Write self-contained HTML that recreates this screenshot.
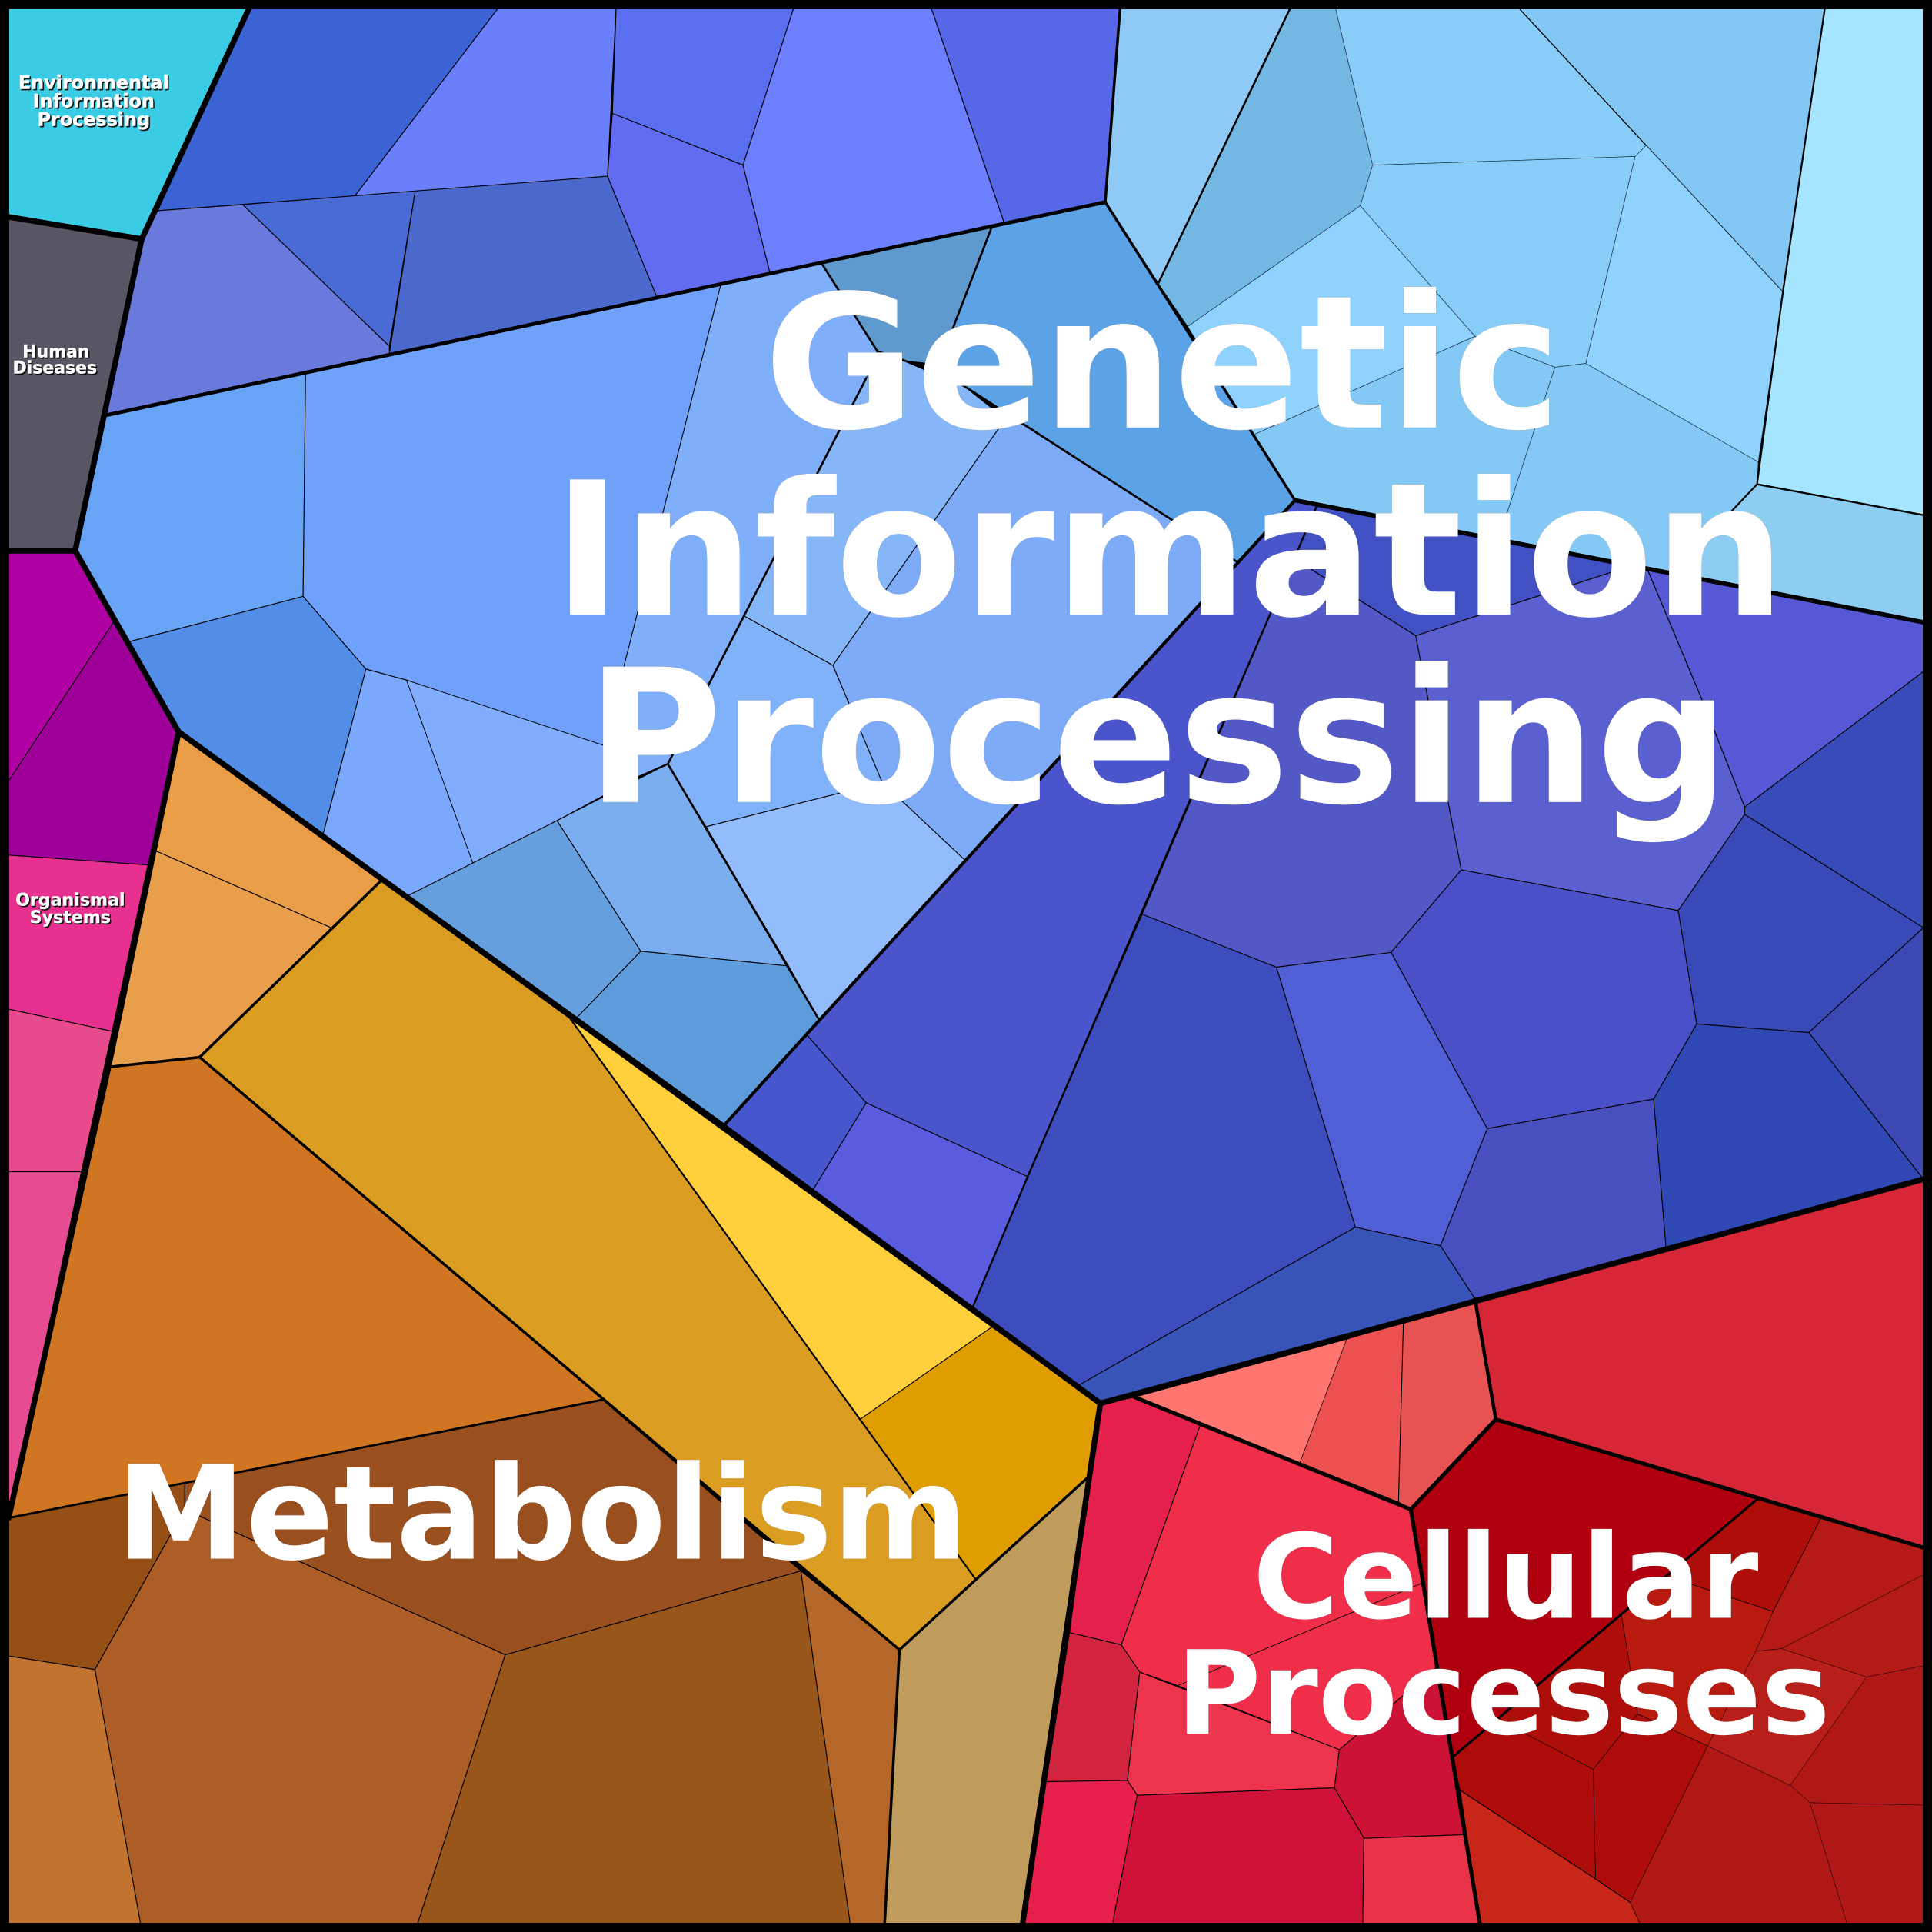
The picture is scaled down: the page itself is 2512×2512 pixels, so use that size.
<!DOCTYPE html>
<html><head><meta charset="utf-8"><style>
html,body{margin:0;padding:0;background:#000}
svg{display:block}
polygon{stroke:#000;stroke-width:.7;stroke-linejoin:round}
.l polygon{stroke-width:.4;stroke:#123}
.m{fill:none;stroke:#000;stroke-width:2.2;stroke-linejoin:round;stroke-linecap:round}
.t{fill:none;stroke:#000;stroke-width:4.6;stroke-linejoin:round;stroke-linecap:round}
text{font-family:"DejaVu Sans","Liberation Sans",sans-serif;font-weight:bold;fill:#fff;text-anchor:middle}
.big{filter:drop-shadow(.8px .8px 0 #333)}
.sm{filter:drop-shadow(1px 1px 0 #111)}
.sm text{stroke:#fff;stroke-width:.25}
</style></head><body>
<svg xmlns="http://www.w3.org/2000/svg" width="2512" height="2512" viewBox="0 0 1568 1568">
<rect width="1568" height="1568" fill="#000"/>
<g>
<polygon fill="#3accE4" points="7,7 202,7 115,194 7,176"/>
<polygon fill="#585664" points="7,176 115,194 61,447 7,447"/>
<polygon fill="#b000a4" points="7,447 61,447 92,505 7,634"/>
<polygon fill="#a0009a" points="92,505 145,594 120,702 7,694 7,634"/>
<polygon fill="#e83090" points="7,694 120,702 91,837 7,819"/>
<polygon fill="#e84a8e" points="7,819 91,837 66,951 7,951"/>
<polygon fill="#e74c93" points="7,951 66,951 7,1232"/>
<polygon fill="#e99d46" points="145,594 309,715 269,753 125,690"/>
<polygon fill="#e99e4c" points="125,690 269,753 162,858 88,866"/>
<polygon fill="#d07522" points="88,866 162,858 489,1136 7,1232"/>
<polygon fill="#954f14" points="7,1232 150,1204 150,1225 77,1355 7,1344"/>
<polygon fill="#9a4f1e" points="150,1204 489,1136 650,1275 410,1343 150,1225"/>
<polygon fill="#ac5e26" points="77,1355 150,1225 410,1343 339,1561 114,1561"/>
<polygon fill="#98561b" points="410,1343 650,1275 690,1561 339,1561"/>
<polygon fill="#b5672a" points="650,1275 730,1339 718,1561 690,1561"/>
<polygon fill="#c27330" points="7,1344 77,1355 114,1561 7,1561"/>
<polygon fill="#da9d22" points="309,715 463,827 792,1282 730,1339 162,858"/>
<polygon fill="#ffd03c" points="463,827 805,1077 698,1152"/>
<polygon fill="#e09d00" points="805,1077 893,1139 884,1198 792,1282 698,1152"/>
<polygon fill="#c09c5c" points="884,1198 830,1561 718,1561 730,1339"/>

<polygon fill="#3b63d4" points="202,7 404,7 288,159 128,171"/>
<polygon fill="#6a7ffb" points="404,7 500,7 493,143 288,159"/>
<polygon fill="#5a6ef0" points="500,7 644,7 603,134 497,92"/>
<polygon fill="#616cf0" points="497,92 603,134 625,222 533,241 493,143"/>
<polygon fill="#6b7fff" points="644,7 756,7 815,181 625,222 603,134"/>
<polygon fill="#5668e8" points="756,7 909,7 897,164 815,181"/>
<polygon fill="#6a79dc" points="128,171 197,166 316,281 316,287 86,337 115,194"/>
<polygon fill="#4a6ad6" points="197,166 337,155 316,281"/>
<polygon fill="#4b68cc" points="337,155 493,143 533,241 316,287"/>

<polygon fill="#68a4f6" points="86,337 248,303 246,484 104,521 61,447"/>
<polygon fill="#6fa1fb" points="248,303 585,231 519,540 490,605 330,552 297,543 246,484"/>
<polygon fill="#528ee8" points="104,521 246,484 297,543 262,678 145,594"/>
<polygon fill="#79a8fc" points="297,543 330,552 384,701 331,727 262,678"/>
<polygon fill="#82adfe" points="330,552 490,605 515,632 452,666 384,701" style="stroke-width:.5"/>
<polygon fill="#7faefb" points="585,231 667,214 712,285 703,307 542,620 515,632 490,605"/>
<polygon fill="#5e9acd" points="667,214 805,184 762,296 735,293 712,285"/>
<polygon fill="#5ca2e6" points="805,184 897,164 1051,406 1004,456 831,344 782,313 762,296"/>
<polygon fill="#84b6f8" points="712,285 735,293 782,313 816,340 676,540 604,500 703,307"/>
<polygon fill="#7dabf8" points="816,340 831,344 1004,456 783,698 716,635 676,540"/>
<polygon fill="#80b2fa" points="604,500 676,540 716,635 573,671 542,620"/>
<polygon fill="#93bcfd" points="573,671 716,635 783,698 665,828"/>
<polygon fill="#7aaeef" points="452,666 542,620 640,784 520,772"/>
<polygon fill="#5e9bdb" points="520,772 640,784 665,828 587,914 467,827"/>
<polygon fill="#669fdd" points="331,727 452,666 520,772 467,827"/>

<polygon fill="#4a55cb" points="1051,406 1069,410 834,955 703,895 655,840 665,828"/>
<polygon fill="#4150c3" points="1069,410 1337,462 1309,464 1149,516 1064,462 1052,450"/>
<polygon fill="#5259c6" points="1052,450 1064,462 1149,516 1186,706 1129,773 1036,785 927,742"/>
<polygon fill="#5a60cf" points="1149,516 1309,464 1337,462 1381,567 1416,655 1416,661 1362,739 1186,706"/>
<polygon fill="#5658d6" points="1337,462 1561,505 1561,545 1416,655 1381,567"/>
<polygon fill="#374cb8" points="1561,545 1416,655 1416,661 1561,753"/>
<polygon fill="#3a49b8" points="1416,661 1561,753 1468,838 1377,831 1362,739"/>
<polygon fill="#3c49b5" points="1561,753 1561,957 1468,838"/>
<polygon fill="#2f48b4" points="1377,831 1468,838 1561,957 1352,1012 1342,892"/>
<polygon fill="#4a50c8" points="1186,706 1362,739 1377,831 1342,892 1207,916 1129,773"/>
<polygon fill="#4850c0" points="1207,916 1342,892 1352,1012 1197,1054 1169,1011"/>
<polygon fill="#515fd7" points="1036,785 1129,773 1207,916 1169,1011 1100,996"/>
<polygon fill="#3e4dbe" points="927,742 1036,785 1100,996 876,1124 789,1062 834,955"/>
<polygon fill="#3854b8" points="1100,996 1169,1011 1197,1054 893,1139 876,1124"/>
<polygon fill="#5a5ce0" points="703,895 834,955 789,1062 659,967"/>
<polygon fill="#4657ce" points="655,840 703,895 659,967 587,914 665,828"/>
</g>
<g class="l">
<polygon fill="#8fcaf6" points="909,7 1047,7 940,230 897,164" style="stroke:#000;stroke-width:.9"/>
<polygon fill="#72b8e2" points="1047,7 1084,7 1114,134 1104,167 964,265 940,230"/>
<polygon fill="#88ccf8" points="1084,7 1233,7 1336,118 1327,127 1114,134"/>
<polygon fill="#82c7f3" points="1233,7 1481,7 1447,237 1336,118" style="stroke:#000;stroke-width:.8"/>
<polygon fill="#a5e5ff" points="1481,7 1561,7 1561,418 1426,393 1447,237" style="stroke:#000;stroke-width:.9"/>
<polygon fill="#8ed2fd" points="1336,118 1447,237 1427,375 1287,295 1327,127"/>
<polygon fill="#88ccf8" points="1114,134 1327,127 1287,295 1262,298 1197,273 1104,167"/>
<polygon fill="#8ed2fd" points="1104,167 1197,273 1017,353 964,265"/>
<polygon fill="#84c9f5" points="1017,353 1197,273 1262,298 1216,438 1051,406"/>
<polygon fill="#84c9f5" points="1262,298 1287,295 1427,375 1426,393 1358,465 1216,438"/>
<polygon fill="#8ecdf2" points="1426,393 1561,418 1561,505 1358,465" style="stroke:#000;stroke-width:.9"/>
</g>
<g>
<polygon fill="#d72636" points="1197,1054 1561,957 1561,1256 1214,1152"/>
<polygon fill="#ff7570" points="921,1134 1093,1087 1055,1187" style="stroke-width:.4"/>
<polygon fill="#ec5050" points="1093,1087 1139,1073 1135,1219 1055,1187" style="stroke-width:.4"/>
<polygon fill="#e75252" points="1139,1073 1197,1054 1214,1152 1145,1225 1135,1219"/>
<polygon fill="#b0000f" points="1214,1152 1427,1216 1179,1426 1145,1225"/>
<polygon fill="#ad0e09" points="1427,1216 1478,1232 1439,1308 1352,1279"/>
<polygon fill="#b81a10" points="1352,1279 1439,1308 1425,1340 1386,1417 1329,1391 1316,1311" style="stroke-width:.35"/>
<polygon fill="#ad0e09" points="1316,1311 1329,1391 1293,1436 1215,1395" style="stroke-width:.35"/>
<polygon fill="#ae0c0a" points="1179,1426 1215,1395 1293,1436 1295,1525 1185,1453" style="stroke-width:.4"/>
<polygon fill="#ae0c0a" points="1293,1436 1329,1391 1386,1417 1323,1544 1295,1525" style="stroke-width:.4"/>
<polygon fill="#c82618" points="1185,1453 1295,1525 1323,1544 1331,1561 1201,1561"/>
<polygon fill="#b01815" points="1323,1544 1386,1417 1453,1449 1469,1463 1499,1561 1331,1561" style="stroke-width:.3"/>
<polygon fill="#b01818" points="1469,1463 1561,1465 1561,1561 1499,1561" style="stroke-width:.3"/>
<polygon fill="#b81f1a" points="1425,1340 1446,1338 1515,1361 1453,1449 1386,1417" style="stroke-width:.3"/>
<polygon fill="#b51a16" points="1478,1232 1561,1256 1561,1278 1446,1338 1425,1340 1439,1308" style="stroke-width:.3"/>
<polygon fill="#b41a16" points="1561,1278 1561,1352 1515,1361 1446,1338" style="stroke-width:.3"/>
<polygon fill="#b01816" points="1515,1361 1561,1352 1561,1465 1469,1463 1453,1449" style="stroke-width:.3"/>
<polygon fill="#e6204c" points="893,1139 921,1134 974,1157 910,1335 868,1325"/>
<polygon fill="#f02e4a" points="974,1157 1145,1225 1154,1285 956,1368 925,1357 910,1335"/>
<polygon fill="#f02e4a" points="1154,1285 1166,1353 1087,1420 956,1368" style="stroke-width:.4"/>
<polygon fill="#d2243f" points="868,1325 910,1335 925,1357 915,1445 849,1446"/>
<polygon fill="#ec344c" points="925,1357 1087,1420 1083,1451 923,1457 915,1445"/>
<polygon fill="#cc1235" points="1087,1420 1166,1353 1189,1489 1107,1492 1083,1451"/>
<polygon fill="#e6204a" points="849,1446 915,1445 923,1457 903,1561 830,1561"/>
<polygon fill="#d01238" points="923,1457 1083,1451 1107,1492 1106,1561 903,1561"/>
<polygon fill="#e93348" points="1107,1492 1189,1489 1201,1561 1106,1561"/>
</g>
<g class="m">
<path d="M909,7 897,164 1051,406"/>
<path d="M1047,7 940,230" stroke-width="1.6"/>
<path d="M1481,7 1447,237 1426,393 1358,465" stroke-width="1.4"/>
<path d="M1426,393 1561,418" stroke-width="1.5"/>
<path d="M667,214 712,285 735,293 782,313 1004,456" stroke-width="1.7"/>
<path d="M805,184 762,296" stroke-width="1.7"/>
<path d="M703,307 542,620 665,828" stroke-width="1.7"/>
<path d="M542,620 515,632" stroke-width="1.5"/>
<path d="M1069,410 834,955 789,1062" stroke-width="1.5"/>
<path d="M1051,406 665,828 587,914" stroke-width="2.6"/>
<path d="M88,866 162,858 309,715"/>
<path d="M162,858 730,1339 792,1282 884,1198"/>
<path d="M7,1232 489,1136" stroke-width="1.8"/>
<path d="M730,1339 718,1561"/>
<path d="M1427,1216 1179,1426" stroke-width="2"/>
<path d="M463,827 792,1282" stroke-width="1.4"/>
</g>
<g class="t">
<path d="M7,176 115,194"/>
<path d="M202,7 115,194 61,447 7,447"/>
<path d="M61,447 145,594 88,866 7,1232"/>
<path d="M145,594 587,914 893,1139 1561,957"/>
<path d="M893,1139 830,1561"/>
<path d="M86,337 897,164" stroke-width="3"/>
<path d="M1051,406 1561,505" stroke-width="3.6"/>
<path d="M921,1134 1145,1225 1214,1152 1561,1256" stroke-width="3.2"/>
<path d="M1197,1054 1214,1152" stroke-width="2.8"/>
<path d="M1145,1225 1201,1561" stroke-width="3.2"/>
</g>
<rect x="3.5" y="3.5" width="1561" height="1561" rx="3" fill="none" stroke="#000" stroke-width="8"/>
<g class="big">
<text x="943.5" y="347" font-size="150.5">Genetic</text>
<text x="949" y="499" font-size="150.8">Information</text>
<text x="939.5" y="651" font-size="151">Processing</text>
<text x="440" y="1265" font-size="105.5">Metabolism</text>
<text x="1222" y="1313" font-size="95">Cellular</text>
<text x="1220" y="1407" font-size="94">Processes</text>
</g>
<g class="sm">
<text x="76" y="72" font-size="14.9">Environmental</text>
<text x="76" y="87" font-size="14.9">Information</text>
<text x="76" y="102" font-size="14.9">Processing</text>
<text x="45.5" y="290" font-size="13.7">Human</text>
<text x="44.5" y="303" font-size="13.7">Diseases</text>
<text x="57" y="735" font-size="13.8">Organismal</text>
<text x="57" y="749" font-size="13.8">Systems</text>
</g>
</svg>
</body></html>
